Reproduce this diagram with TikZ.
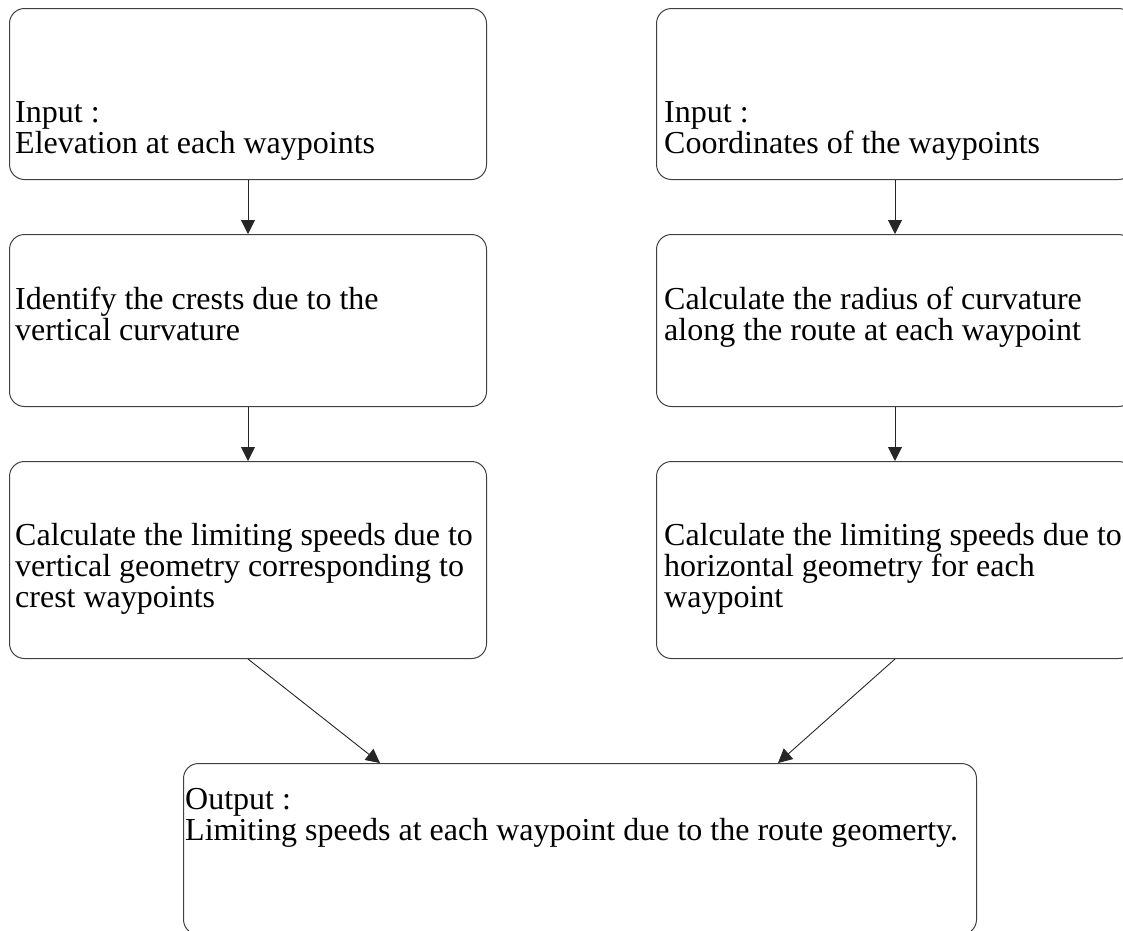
\documentclass[tikz,border=0pt]{standalone}
\usepackage{fontspec}
\setmainfont{Liberation Serif}
\usetikzlibrary{arrows.meta,calc}

\tikzset{
  box/.style={draw=black!75, line width=1pt, rounded corners=15pt,
    inner sep=0pt, anchor=north west},
  % text blocks are placed by the baseline of their last line
  txt/.style={anchor=base west, inner sep=0pt, align=left,
    font=\fontsize{32}{31}\selectfont},
  flow/.style={draw=black!85, line width=0.9pt,
    -{Triangle[length=14pt,width=14pt]}},
}

\begin{document}
\begin{tikzpicture}[x=1pt,y=-1pt]
  \useasboundingbox (0,0) rectangle (1123,930);
  \clip (0,0) rectangle (1123,930);

  % left column: vertical geometry
  \node[box, minimum width=477pt, minimum height=171pt] (l1) at (9,8) {};
  \node[box, minimum width=477pt, minimum height=172pt] (l2) at (9,234) {};
  \node[box, minimum width=477pt, minimum height=197pt] (l3) at (9,461) {};

  % right column: horizontal geometry
  \node[box, minimum width=477pt, minimum height=171pt] (r1) at (656,8) {};
  \node[box, minimum width=477pt, minimum height=172pt] (r2) at (656,234) {};
  \node[box, minimum width=477pt, minimum height=197pt] (r3) at (656,461) {};

  % result
  \node[box, minimum width=793pt, minimum height=171pt] (out) at (183,763) {};

  % texts
  \node[txt] (l1t) at (15,153) {Input :\\Elevation at each waypoints};
  \node[txt] (l2t) at (15,340) {Identify the crests due to the\\vertical curvature};
  \node[txt] (l3t) at (15,607) {Calculate the limiting speeds due to\\vertical geometry corresponding to\\crest waypoints};
  \node[txt] (r1t) at (664,153) {Input :\\Coordinates of the waypoints};
  \node[txt] (r2t) at (664,340) {Calculate the radius of curvature\\along the route at each waypoint};
  \node[txt] (r3t) at (664,607) {Calculate the limiting speeds due to\\horizontal geometry for each\\waypoint};
  \node[txt] (outt) at (185,840) {Output :\\Limiting speeds at each waypoint due to the route geomerty.};

  % connectors
  \coordinate (inL) at ($(out.north west)+(197,0)$);
  \coordinate (inR) at ($(out.north west)+(595,0)$);
  \draw[flow] (l1.south) -- (l2.north);
  \draw[flow] (l2.south) -- (l3.north);
  \draw[flow] (r1.south) -- (r2.north);
  \draw[flow] (r2.south) -- (r3.north);
  \draw[flow] (l3.south) -- (inL);
  \draw[flow] (r3.south) -- (inR);
\end{tikzpicture}
\end{document}
